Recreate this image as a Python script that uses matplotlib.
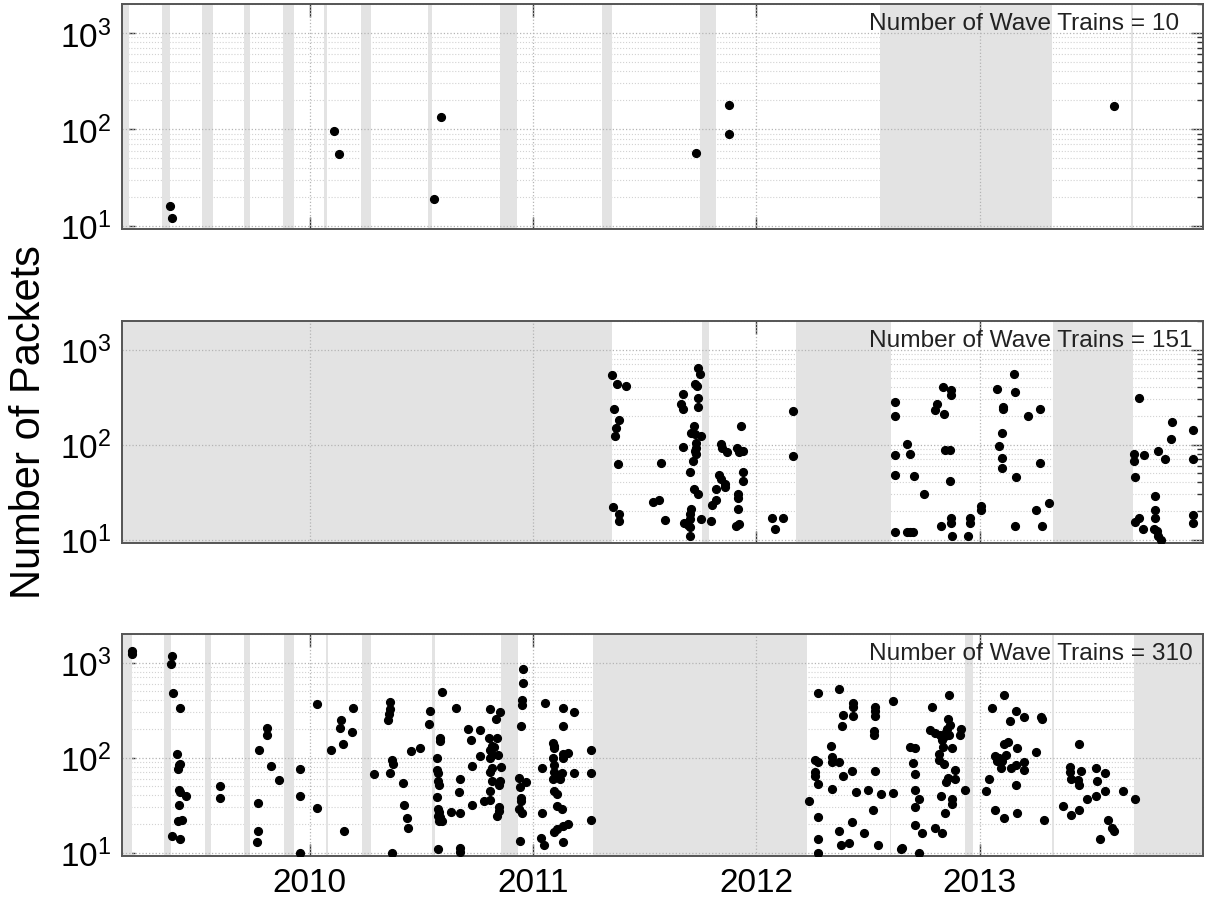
import numpy as np
import matplotlib
matplotlib.use("Agg")
from matplotlib import pyplot as plt
from matplotlib.ticker import LogLocator, LogFormatterMathtext, NullFormatter

plt.rcParams['font.family'] = ['Liberation Sans', 'DejaVu Sans']
plt.rcParams['mathtext.fontset'] = 'custom'
plt.rcParams['mathtext.rm'] = 'Liberation Sans'
plt.rcParams['mathtext.it'] = 'Liberation Sans:italic'
plt.rcParams['mathtext.bf'] = 'Liberation Sans:bold'

# -- Data (decimal year, number of packets) --
XMIN, XMAX = 2009.16, 2014.0
YEARS = [2010, 2011, 2012, 2013]
N_TRAINS = [10, 151, 310]

top_t = [2009.376, 2009.384, 2010.110, 2010.131, 2010.557, 2010.589,
         2011.731, 2011.878, 2011.878, 2013.602]
top_n = [15.9, 11.9, 97, 54.7, 19, 134, 57, 88.7, 178, 173]

mid_t = [2011.356, 2011.375, 2011.418, 2011.362, 2011.384, 2011.373, 2011.367, 2011.381,
         2011.360, 2011.383, 2011.383,
         2011.536, 2011.565, 2011.573, 2011.589,
         2011.737, 2011.749, 2011.726, 2011.734, 2011.673, 2011.664, 2011.674, 2011.741,
         2011.741, 2011.720, 2011.707, 2011.725, 2011.752, 2011.730, 2011.730, 2011.727,
         2011.730, 2011.670, 2011.717, 2011.703, 2011.722, 2011.741, 2011.707, 2011.704,
         2011.704, 2011.677, 2011.692, 2011.704, 2011.704, 2011.752,
         2011.797, 2011.819, 2011.819, 2011.800, 2011.834, 2011.842, 2011.861, 2011.861,
         2011.842, 2011.846, 2011.871, 2011.912, 2011.924, 2011.939, 2011.931, 2011.939,
         2011.939, 2011.916, 2011.916, 2011.916, 2011.909, 2011.924,
         2012.069, 2012.121, 2012.085, 2012.166, 2012.166,
         2012.623, 2012.623, 2012.620, 2012.623, 2012.623, 2012.676, 2012.688, 2012.704,
         2012.676, 2012.700, 2012.688, 2012.749, 2012.810, 2012.800, 2012.839, 2012.837,
         2012.870, 2012.873, 2012.845, 2012.865, 2012.866, 2012.870, 2012.870, 2012.826,
         2012.874, 2012.958, 2012.958, 2012.947, 2013.006, 2013.006, 2013.076, 2013.156,
         2013.159, 2013.103, 2013.106, 2013.216, 2013.272, 2013.100, 2013.087, 2013.100,
         2013.100, 2013.163, 2013.272, 2013.309, 2013.253, 2013.159, 2013.280,
         2013.712, 2013.691, 2013.691, 2013.736, 2013.694, 2013.800, 2013.828, 2013.863,
         2013.855, 2013.957, 2013.957, 2013.957, 2013.957, 2013.783, 2013.783, 2013.783,
         2013.712, 2013.696, 2013.730, 2013.779, 2013.792, 2013.799, 2013.812]
mid_n = [537, 438, 415, 236, 183, 151, 124, 62.6,
         22, 18.6, 15.6,
         24.9, 25.8, 64, 16,
         636, 550, 438, 414, 344, 270, 235, 312,
         250, 157, 131, 128, 123, 105, 93, 86,
         80, 95, 67, 51, 33.9, 30, 21, 18.5,
         16.4, 15.1, 14.3, 13.4, 10.9, 16.6,
         15.7, 34, 26, 23, 48, 43, 38.8, 35.9,
         101, 93, 84, 93, 84, 86, 157, 52,
         41.5, 30.5, 27.7, 20.8, 13.9, 14.7,
         16.9, 16.9, 13, 224, 75,
         279, 199, 77, 47.6, 12, 102, 80, 47,
         12, 12, 12, 30, 268, 233, 212, 401,
         379, 336, 88.5, 88.5, 41, 16.9, 15, 14,
         10.8, 16.9, 15, 10.8, 22.8, 20.7, 388, 559,
         358, 247, 237, 202, 239, 133, 96, 72,
         57, 45.7, 64, 24, 20.7, 13.8, 13.8,
         310, 80, 67, 78.5, 45.7, 85, 70.6, 172,
         115, 142, 70.6, 18, 15, 29, 20.7, 16.9,
         16.9, 15.2, 13, 13, 12.2, 10.8, 10]

bot_t = [2009.206, 2009.206, 2009.386, 2009.381, 2009.389, 2009.421, 2009.405, 2009.416,
         2009.420, 2009.410, 2009.416, 2009.418, 2009.445, 2009.413, 2009.410, 2009.429,
         2009.384, 2009.421, 2009.597, 2009.597, 2009.772, 2009.809, 2009.809, 2009.828,
         2009.863, 2009.769, 2009.769, 2009.766, 2009.955, 2009.955, 2009.957, 2010.035,
         2010.035, 2010.096, 2010.140, 2010.137, 2010.148, 2010.196, 2010.191, 2010.156,
         2010.287, 2010.359, 2010.359, 2010.355, 2010.352, 2010.367, 2010.373, 2010.359,
         2010.367, 2010.418, 2010.423, 2010.434, 2010.439, 2010.453, 2010.494,
         2010.538, 2010.535, 2010.593, 2010.655, 2010.583, 2010.583, 2010.571, 2010.571,
         2010.574, 2010.574, 2010.580, 2010.571, 2010.576, 2010.580, 2010.574, 2010.585,
         2010.578, 2010.594, 2010.574, 2010.635, 2010.673, 2010.670, 2010.673, 2010.673,
         2010.675, 2010.710, 2010.722, 2010.765, 2010.762, 2010.728, 2010.728, 2010.807,
         2010.852, 2010.834, 2010.803, 2010.840, 2010.815, 2010.827, 2010.807, 2010.845,
         2010.815, 2010.807, 2010.857, 2010.815, 2010.807, 2010.815, 2010.852, 2010.848,
         2010.807, 2010.782, 2010.807, 2010.848, 2010.848, 2010.840,
         2010.954, 2010.957, 2010.949, 2010.949, 2010.946, 2010.937, 2010.967, 2010.940,
         2010.946, 2010.946, 2010.937, 2010.952, 2010.944, 2011.054, 2011.039, 2011.042,
         2011.037, 2011.048, 2011.091, 2011.095, 2011.093, 2011.091, 2011.095, 2011.093,
         2011.104, 2011.089, 2011.120, 2011.131, 2011.136, 2011.155, 2011.133, 2011.136,
         2011.136, 2011.183, 2011.095, 2011.107, 2011.107, 2011.131, 2011.095, 2011.107,
         2011.136, 2011.155, 2011.136, 2011.183, 2011.260, 2011.260, 2011.260,
         2012.238, 2012.277, 2012.370, 2012.277, 2012.277, 2012.277, 2012.262, 2012.277,
         2012.262, 2012.262, 2012.277, 2012.338, 2012.333, 2012.338, 2012.338, 2012.370,
         2012.390, 2012.427, 2012.448, 2012.370, 2012.427, 2012.378, 2012.414, 2012.483,
         2012.383, 2012.388, 2012.432, 2012.432, 2012.432, 2012.531, 2012.531, 2012.531,
         2012.525, 2012.525, 2012.531, 2012.522, 2012.501, 2012.560, 2012.612, 2012.543,
         2012.612, 2012.647,
         2012.861, 2012.786, 2012.860, 2012.867, 2012.855, 2012.779, 2012.798, 2012.821,
         2012.843, 2012.833, 2012.851, 2012.862, 2012.915, 2012.913, 2012.836, 2012.874,
         2012.686, 2012.709, 2012.820, 2012.820, 2012.840, 2012.700, 2012.710, 2012.890,
         2012.860, 2012.890, 2012.850, 2012.933, 2012.710, 2012.730, 2012.710, 2012.828,
         2012.876, 2012.878, 2012.843, 2012.710, 2012.740, 2012.800, 2012.830, 2012.653,
         2012.730,
         2013.108, 2013.057, 2013.161, 2013.197, 2013.135, 2013.108, 2013.127, 2013.167,
         2013.067, 2013.087, 2013.102, 2013.120, 2013.077, 2013.097, 2013.142, 2013.161,
         2013.197, 2013.197, 2013.042, 2013.027, 2013.161, 2013.067, 2013.108, 2013.167,
         2013.275, 2013.280, 2013.253, 2013.288,
         2013.446, 2013.406, 2013.406, 2013.409, 2013.454, 2013.440, 2013.446, 2013.522,
         2013.559, 2013.527, 2013.559, 2013.519, 2013.481, 2013.643, 2013.694, 2013.372,
         2013.409, 2013.444, 2013.575, 2013.594, 2013.602, 2013.541]
bot_n = [1324, 1222, 1174, 961, 473, 335, 110, 83,
         85, 76, 46, 43.6, 39, 32, 21.5, 22,
         15, 14, 50, 37.7, 119, 204, 171, 81,
         58, 33, 17, 12.9, 76, 39, 9.8, 363,
         29.8, 120, 251, 205, 140, 333, 185, 16.9,
         67, 385, 324, 288, 247, 95, 85, 69,
         9.8, 54, 31.8, 22.9, 18, 116, 126,
         308, 227, 488, 336, 161, 148, 98, 74,
         68, 56, 51, 38.7, 28.8, 27, 24, 23.5,
         21.5, 21.5, 11, 27, 26, 43, 59, 11.1,
         10.1, 201, 152, 195, 103, 82, 32, 326,
         301, 256, 162, 162, 134, 129, 119, 107,
         107, 98, 79.6, 77, 70, 56, 56.5, 52,
         45, 35, 36, 30.5, 27.4, 24,
         855, 610, 408, 359, 215, 61, 55, 48.5,
         37.8, 35, 29, 26.3, 13.1, 377, 77, 26,
         14.2, 12.1, 143, 134, 126, 100, 83, 70,
         66, 59, 60, 68, 110, 111, 99, 217,
         329, 299, 44.6, 41.8, 30.8, 28.6, 16.6, 17.7,
         19, 19.8, 12.9, 68, 119, 69, 22,
         34.7, 481, 526, 23.8, 13.9, 9.8, 95, 90,
         70.5, 64, 52.8, 47, 131, 102, 90, 90,
         64, 72, 43.6, 17, 20.8, 11.9, 12.7, 15.9,
         217, 283, 277, 338, 375, 338, 312, 277,
         192, 171, 73, 28, 46, 41.8, 42.8, 11.9,
         397, 10.9,
         457, 340, 252, 218, 201, 196, 183, 174,
         167, 152, 186, 171, 201, 174, 129, 127,
         129, 127, 110, 94, 85, 88, 67, 74,
         61, 60, 55, 46, 46, 37, 30, 39,
         37, 32.5, 26, 19.3, 16, 18, 16, 11.1,
         9.9,
         457, 331, 313, 270, 240, 140, 146, 127,
         104, 99, 91, 107, 91, 77, 78, 83,
         90, 74, 59, 45, 52, 28, 23, 26,
         265, 255, 115, 22,
         138, 79, 70.5, 60, 73, 58, 52, 78,
         68, 56, 44.6, 39.5, 37, 44.6, 37, 31,
         24.8, 28, 22, 18, 17, 13.9]

# -- Data gaps (shaded) --
top_gaps = [(2009.16, 2009.19), (2009.341, 2009.376), (2009.520, 2009.569), (2009.708, 2009.735),
            (2009.879, 2009.931), (2010.066, 2010.076), (2010.231, 2010.274), (2010.530, 2010.550),
            (2010.852, 2010.928), (2011.311, 2011.354), (2011.750, 2011.820), (2012.556, 2013.325),
            (2013.676, 2013.685)]
mid_gaps = [(2009.16, 2011.354), (2011.758, 2011.787), (2012.177, 2012.604), (2013.329, 2013.686)]
bot_gaps = [(2009.16, 2009.206), (2009.349, 2009.381), (2009.530, 2009.557), (2009.708, 2009.735),
            (2009.887, 2009.931), (2010.075, 2010.083), (2010.234, 2010.274), (2010.547, 2010.560),
            (2010.858, 2010.932), (2011.271, 2012.225), (2012.597, 2012.604), (2012.936, 2012.972),
            (2013.326, 2013.332), (2013.691, 2014.0)]

panels = [(top_t, top_n, top_gaps), (mid_t, mid_n, mid_gaps), (bot_t, bot_n, bot_gaps)]

# -- Plotting --
W, H = 1206, 903
fig = plt.figure(figsize=(W/100, H/100), dpi=100)
boxes = [(5, 230), (322, 544), (635, 857)]  # top/bottom pixel rows of each panel

for i, ((t, n, gaps), (y0, y1)) in enumerate(zip(panels, boxes)):
    ax = fig.add_axes([122/W, 1 - y1/H, 1081/W, (y1 - y0)/H])
    ax.set_axisbelow(True)
    for a, b in gaps:
        ax.axvspan(a, b, color='#e3e3e3', lw=0, zorder=0.6)  # covers the minor grid
    ax.plot(t, n, 'o', color='black', ms=5.6, zorder=3)

    ax.set_yscale('log')
    ax.set_xlim(XMIN, XMAX)
    ax.set_ylim(9.2, 2000)
    ax.yaxis.set_major_locator(LogLocator(base=10, numticks=10))
    ax.yaxis.set_minor_locator(LogLocator(base=10, subs=np.arange(2, 10), numticks=10))
    ax.yaxis.set_major_formatter(LogFormatterMathtext())
    ax.yaxis.set_minor_formatter(NullFormatter())
    ax.set_xticks(YEARS)
    if i == 2:
        ax.set_xticklabels([str(y) for y in YEARS])
    else:
        ax.set_xticklabels([])

    # minor grid under the shading, major grid on top of it
    ax.grid(True, which='minor', axis='y', color='#d2d2d2', ls=':', lw=0.8)
    for yv in ax.get_yticks():
        if 9.2 < yv < 2000:
            ax.axhline(yv, color='#b4b4b4', ls=':', lw=0.9, zorder=0.7)
    for xv in YEARS:
        ax.axvline(xv, color='#b4b4b4', ls=':', lw=0.9, zorder=0.7)

    ax.tick_params(which='both', direction='in', top=True, right=True, colors='#333333',
                   labelcolor='black', labelsize=24, width=1.0)
    ax.tick_params(which='major', length=9, pad=8)
    ax.tick_params(which='minor', length=4)
    for s in ax.spines.values():
        s.set_color('#555555')
        s.set_linewidth(1.4)

    ax.text(0.691, 0.915, 'Number of Wave Trains = %d' % N_TRAINS[i], transform=ax.transAxes,
            ha='left', va='center', fontsize=17.6, color='#222222', zorder=4)

fig.text(29/W, 1 - 422/H, 'Number of Packets', rotation=90, ha='center', va='center',
         fontsize=30)

fig.savefig('out.png', dpi=100)
